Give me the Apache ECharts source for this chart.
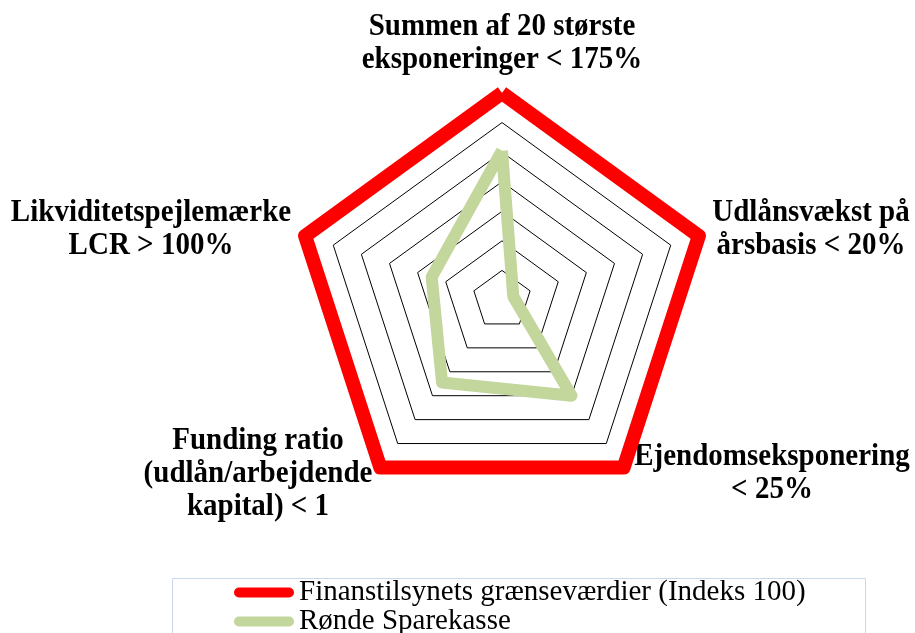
<!DOCTYPE html>
<html>
<head>
<meta charset="utf-8">
<script src="https://cdn.jsdelivr.net/npm/echarts@6/dist/echarts.min.js"></script>
<style>
  html, body { margin: 0; padding: 0; background: #fff; }
  #chart { width: 915px; height: 633px; }
</style>
</head>
<body>
<div id="chart"></div>
<script>
// indicators in counter-clockwise order, starting at the top (echarts radar order)
var indicatorNames = [
  'Summen af 20 største\neksponeringer < 175%',
  'Likviditetspejlemærke\nLCR > 100%',
  'Funding ratio\n(udlån/arbejdende\nkapital) < 1',
  'Ejendomseksponering\n< 25%',
  'Udlånsvækst på\nårsbasis < 20%'
];
var seriesNames = ['Finanstilsynets grænseværdier (Indeks 100)', 'Rønde Sparekasse'];
var limitValues = [100, 100, 100, 100, 100];
var sparekasseValues = [61, 10, 29, 40, -32];
var axisMin = -40;
var axisMax = 100;

// where each axis name sits (centre of the text block)
var namePos = [[502, 43], [151, 229], [258, 474], [772, 473], [811, 229]];

var chart = echarts.init(document.getElementById('chart'));

var capsule = 'path://M5,0 L55,0 A5,5 0 0 1 55,10 L5,10 A5,5 0 0 1 5,0 Z';

var nameTexts = indicatorNames.map(function (n, i) {
  return {
    type: 'text',
    x: namePos[i][0],
    y: namePos[i][1],
    scaleY: 1.1,
    silent: true,
    style: {
      text: n,
      fill: '#000',
      font: 'bold 29px "Liberation Serif", "Times New Roman", serif',
      lineHeight: 30,
      align: 'center',
      verticalAlign: 'middle'
    }
  };
});

var option = {
  animation: false,
  backgroundColor: '#fff',
  legend: {
    orient: 'vertical',
    left: 234,
    top: 578,
    height: 80,
    padding: 0,
    itemGap: 0,
    itemWidth: 60,
    itemHeight: 10,
    selectedMode: false,
    textStyle: {
      fontFamily: '"Liberation Serif", "Times New Roman", serif',
      fontSize: 29,
      lineHeight: 29,
      color: '#000'
    },
    data: [
      { name: seriesNames[0], icon: capsule, itemStyle: { color: '#ff0000' } },
      { name: seriesNames[1], icon: capsule, itemStyle: { color: '#c3d69b' } }
    ]
  },
  radar: {
    center: [502, 300],
    radius: 207,
    startAngle: 90,
    shape: 'polygon',
    splitNumber: 7,
    indicator: indicatorNames.map(function (n) {
      return { name: n, min: axisMin, max: axisMax };
    }),
    axisName: { show: false },
    axisLine: { show: false },
    axisTick: { show: false },
    axisLabel: { show: false },
    splitArea: { show: false },
    splitLine: { lineStyle: { color: '#000', width: 1 } }
  },
  graphic: [
    {
      type: 'rect',
      silent: true,
      shape: { x: 172.5, y: 578.5, width: 693, height: 80 },
      style: { fill: 'none', stroke: '#c9d8f0', lineWidth: 1 }
    }
  ].concat(nameTexts),
  series: [
    {
      type: 'radar',
      silent: true,
      symbol: 'none',
      data: [
        {
          name: seriesNames[0],
          value: limitValues,
          lineStyle: { color: '#ff0000', width: 14, join: 'round' },
          itemStyle: { color: '#ff0000' }
        },
        {
          name: seriesNames[1],
          value: sparekasseValues,
          lineStyle: { color: '#c3d69b', width: 12, join: 'round' },
          itemStyle: { color: '#c3d69b' }
        }
      ]
    }
  ]
};

chart.setOption(option);
</script>
</body>
</html>
